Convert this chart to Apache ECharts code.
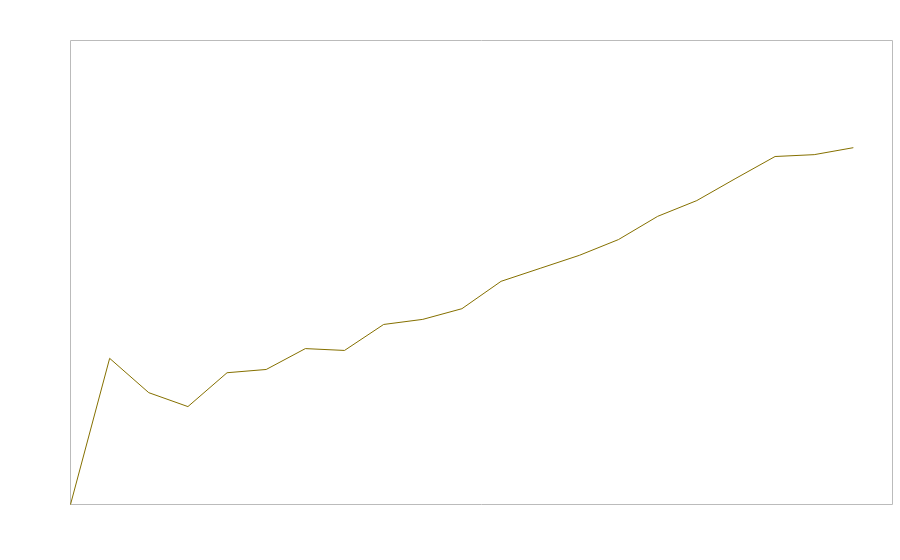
<!DOCTYPE html>
<html>
<head>
<meta charset="utf-8">
<script src="https://cdn.jsdelivr.net/npm/echarts@6/dist/echarts.min.js"></script>
<style>html,body{margin:0;padding:0;background:#fff}#c{width:900px;height:560px}</style>
</head>
<body>
<div id="c"></div>
<script>
var xValues = [0,1,2,3,4,5,6,7,8,9,10,11,12,13,14,15,16,17,18,19,20];
var seriesValues = [0,31.5,24.1,21.1,28.4,29.1,33.6,33.2,38.8,39.9,42.2,48.1,50.9,53.7,57.1,62.1,65.5,70.3,75.0,75.4,76.9];
var xMax = 21;
var yMax = 100;

var data = xValues.map(function(x, i){ return [x, seriesValues[i]]; });
var chart = echarts.init(document.getElementById('c'), null, {renderer:'canvas'});
chart.setOption({
  animation:false,
  backgroundColor:'#fff',
  grid:{left:70.5, top:40.5, width:822, height:464, show:true, borderColor:'#bbbbbb', borderWidth:1, backgroundColor:'transparent'},
  xAxis:{type:'value', min:0, max:xMax, axisLine:{show:false}, axisTick:{show:false}, axisLabel:{show:false}, splitLine:{show:false}},
  yAxis:{type:'value', min:0, max:yMax, axisLine:{show:false}, axisTick:{show:false}, axisLabel:{show:false}, splitLine:{show:false}},
  series:[{type:'line', data:data, symbol:'none', lineStyle:{color:'#857000', width:1}, itemStyle:{color:'#857000'}}]
});
</script>
</body>
</html>
